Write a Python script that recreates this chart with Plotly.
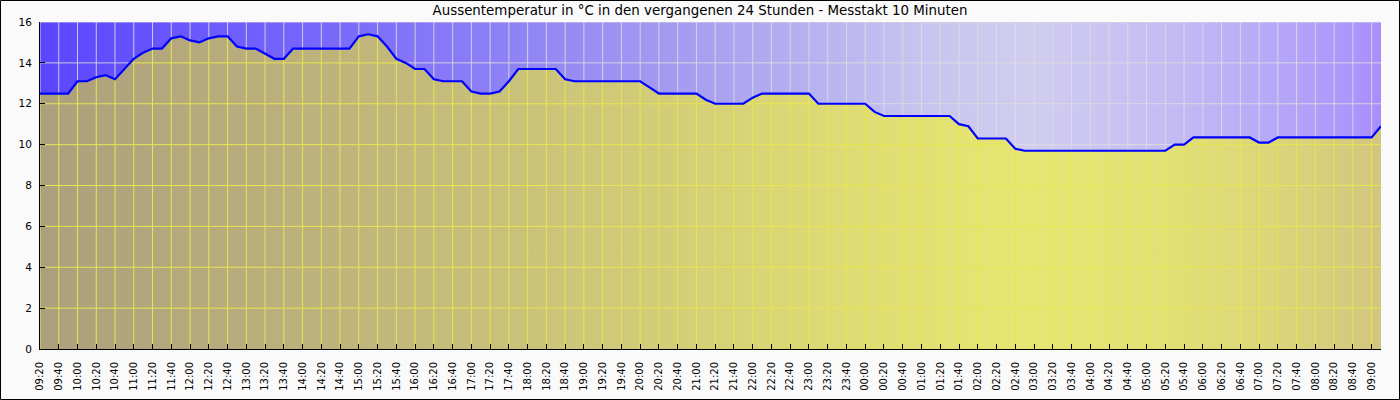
import plotly.graph_objects as go
import pandas as pd

# ---------------- data ----------------
start_time = "2024-01-01 09:20"
sample_minutes = 10
temps = [
    12.5, 12.5, 12.5, 12.5, 13.1, 13.1, 13.3, 13.4, 13.2, 13.7,
    14.2, 14.5, 14.7, 14.7, 15.2, 15.3, 15.1, 15.0, 15.2, 15.3,
    15.3, 14.8, 14.7, 14.7, 14.45, 14.2, 14.2, 14.7, 14.7, 14.7,
    14.7, 14.7, 14.7, 14.7, 15.3, 15.4, 15.3, 14.8, 14.2, 14.0,
    13.7, 13.7, 13.2, 13.1, 13.1, 13.1, 12.6, 12.5, 12.5, 12.6,
    13.1, 13.7, 13.7, 13.7, 13.7, 13.7, 13.2, 13.1, 13.1, 13.1,
    13.1, 13.1, 13.1, 13.1, 13.1, 12.8, 12.5, 12.5, 12.5, 12.5,
    12.5, 12.2, 12.0, 12.0, 12.0, 12.0, 12.3, 12.5, 12.5, 12.5,
    12.5, 12.5, 12.5, 12.0, 12.0, 12.0, 12.0, 12.0, 12.0, 11.6,
    11.4, 11.4, 11.4, 11.4, 11.4, 11.4, 11.4, 11.4, 11.0, 10.9,
    10.3, 10.3, 10.3, 10.3, 9.8, 9.7, 9.7, 9.7, 9.7, 9.7,
    9.7, 9.7, 9.7, 9.7, 9.7, 9.7, 9.7, 9.7, 9.7, 9.7,
    9.7, 10.0, 10.0, 10.35, 10.35, 10.35, 10.35, 10.35, 10.35, 10.35,
    10.1, 10.1, 10.35, 10.35, 10.35, 10.35, 10.35, 10.35, 10.35, 10.35,
    10.35, 10.35, 10.35, 10.9,
]
y_ticks = [0, 2, 4, 6, 8, 10, 12, 14, 16]
y_max = 16
tick_every_minutes = 20

# ---------------- colours ----------------
bg_scale = [
    [0.0, "#5b46ff"], [0.2, "#7766fb"], [0.35, "#8f82f5"], [0.52, "#ada5f0"],
    [0.66, "#c8c4ef"], [0.74, "#d0cdef"], [0.84, "#c4bcf3"], [0.92, "#b6a8f8"],
    [1.0, "#a88efd"],
]
fill_scale = [
    [0.0, "#ac9f7d"], [0.2, "#bdb17c"], [0.45, "#d2cb78"], [0.62, "#e0dd74"],
    [0.74, "#e6e673"], [0.84, "#e2e076"], [0.92, "#dcd57a"], [1.0, "#d3c580"],
]
grid_grey = "rgba(222,222,222,0.85)"
grid_yellow = "#e6e650"

# ---------------- derived ----------------
t0 = pd.Timestamp(start_time)
n = len(temps)
minutes = [i * sample_minutes for i in range(n)]
times = [t0 + pd.Timedelta(minutes=m) for m in minutes]
t_end = times[-1]
tick_idx = list(range(0, n, tick_every_minutes // sample_minutes))


def tm(m):
    return t0 + pd.Timedelta(minutes=m)


# grey grid (full)
gx, gy = [], []
for i in tick_idx:
    gx += [times[i], times[i], None]
    gy += [0, y_max, None]
for lv in y_ticks[1:]:
    gx += [t0, t_end, None]
    gy += [lv, lv, None]

# yellow grid (only below the curve)
yx, yy = [], []
for i in tick_idx:
    yx += [times[i], times[i], None]
    yy += [0, temps[i], None]
for lv in y_ticks[1:]:
    seg_start = 0 if temps[0] >= lv else None
    for i in range(1, n):
        v0, v1 = temps[i - 1], temps[i]
        if (v0 >= lv) != (v1 >= lv):
            mc = minutes[i - 1] + (lv - v0) / (v1 - v0) * sample_minutes
            if v0 >= lv:
                yx += [tm(seg_start), tm(mc), None]
                yy += [lv, lv, None]
                seg_start = None
            else:
                seg_start = mc
    if seg_start is not None:
        yx += [tm(seg_start), t_end, None]
        yy += [lv, lv, None]

fig = go.Figure()
fig.add_trace(go.Scatter(
    x=[t0, t_end], y=[y_max, y_max], mode="none", fill="tozeroy",
    fillgradient=dict(type="horizontal", colorscale=bg_scale),
    hoverinfo="skip", showlegend=False))
fig.add_trace(go.Scatter(
    x=gx, y=gy, mode="lines", line=dict(color=grid_grey, width=1),
    hoverinfo="skip", showlegend=False))
fig.add_trace(go.Scatter(
    x=times, y=temps, mode="none", fill="tozeroy",
    fillgradient=dict(type="horizontal", colorscale=fill_scale),
    hoverinfo="skip", showlegend=False))
fig.add_trace(go.Scatter(
    x=yx, y=yy, mode="lines", line=dict(color=grid_yellow, width=1),
    hoverinfo="skip", showlegend=False))
fig.add_trace(go.Scatter(
    x=times, y=temps, mode="lines", line=dict(color="#0000ff", width=2.2),
    showlegend=False))

L, R, T, B = 40, 19, 22, 51
W, H = 1400, 400
pw, ph = W - L - R, H - T - B

fig.update_layout(
    width=W, height=H,
    margin=dict(l=L, r=R, t=T, b=B, pad=0, autoexpand=False),
    paper_bgcolor="#fafafa", plot_bgcolor="#fafafa",
    font=dict(family="DejaVu Sans", size=10, color="#000000"),
    title=dict(
        text="Aussentemperatur in °C in den vergangenen 24 Stunden - Messtakt 10 Minuten",
        x=0.5, xanchor="center", y=1 - 10 / H, yanchor="middle", yref="container",
        font=dict(family="DejaVu Sans", size=13.4, color="#000000")),
    xaxis=dict(
        type="date", range=[t0, t_end], showgrid=False, zeroline=False,
        showline=True, linecolor="#000000", linewidth=1, automargin=False,
        ticks="inside", ticklen=5, tickcolor="#000000",
        tick0=t0, dtick=tick_every_minutes * 60 * 1000, tickformat="%H:%M",
        tickangle=-90, tickfont=dict(size=10), ticklabelstandoff=8),
    yaxis=dict(
        range=[0, y_max], tickvals=y_ticks, showgrid=False, zeroline=False,
        showline=True, linecolor="#000000", linewidth=1, automargin=False,
        ticks="inside", ticklen=5, tickcolor="#000000", tickfont=dict(size=10.5),
        ticklabelstandoff=5),
    shapes=[dict(
        type="rect", xref="paper", yref="paper",
        x0=(0.5 - L) / pw, x1=(W - 0.5 - L) / pw,
        y0=-(B - 0.5) / ph, y1=1 + (T - 0.5) / ph,
        line=dict(color="#000000", width=1), layer="above")],
)

fig.write_html("out.html")
